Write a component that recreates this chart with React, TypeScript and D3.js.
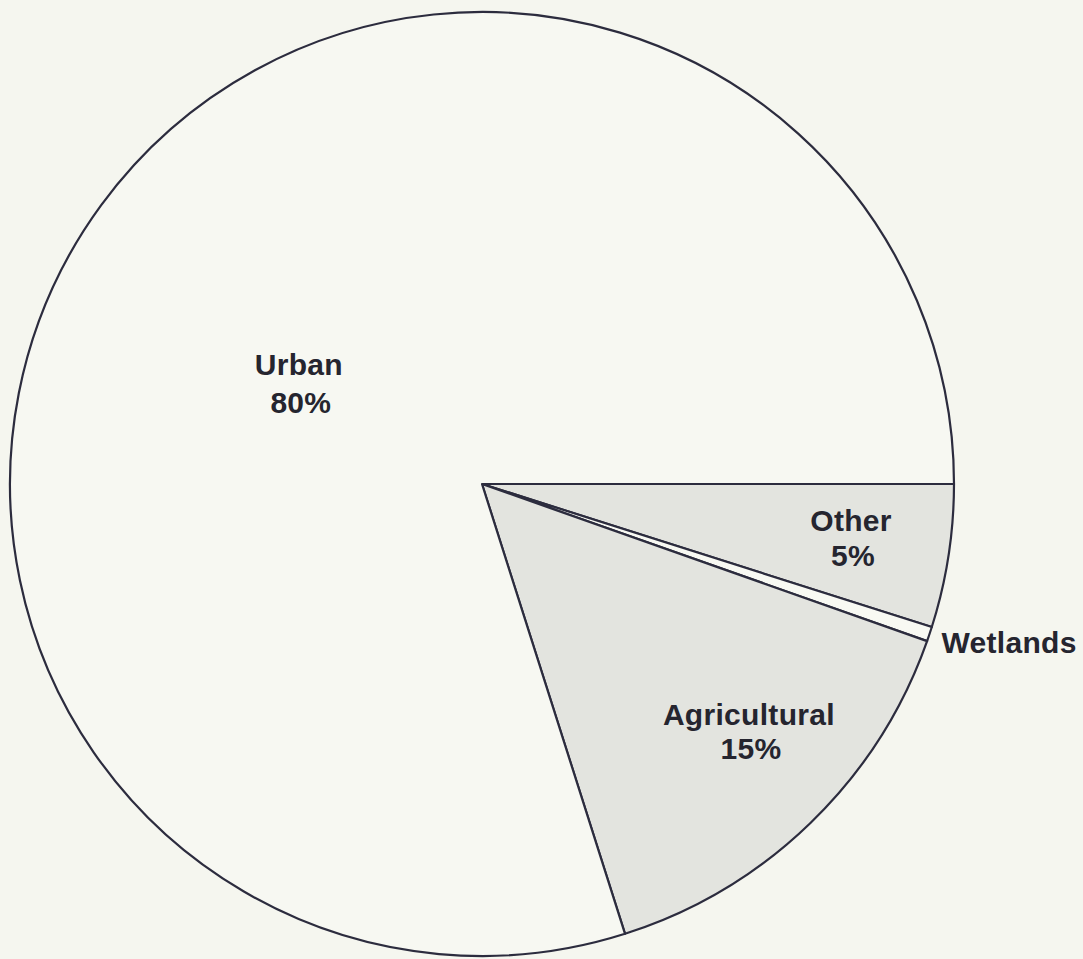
import React, { useRef, useEffect } from "react";
import * as d3 from "d3";

// land use shares (clockwise from 3 o'clock)
const categories = ["Other", "Wetlands", "Agricultural", "Urban"];
const shares = [4.9, 0.5, 14.7, 79.9];
const percentLabels = ["5%", "", "15%", "80%"];

const App = () => {
  const chartRef = useRef<HTMLDivElement>(null);

  useEffect(() => {
    const width = 1083;
    const height = 959;
    const cx = 482;
    const cy = 484;
    const radius = 472;

    const root = d3.select(chartRef.current);
    root.selectAll("*").remove();

    const svg = root
      .append("svg")
      .attr("width", width)
      .attr("height", height)
      .style("position", "absolute")
      .style("left", 0)
      .style("top", 0);

    svg
      .append("rect")
      .attr("width", width)
      .attr("height", height)
      .attr("fill", "#f5f6ef");

    const data = categories.map((name, i) => ({
      name,
      value: shares[i],
      label: percentLabels[i],
    }));

    const fills: Record<string, string> = {
      Other: "#e3e4df",
      Wetlands: "#f8f9f3",
      Agricultural: "#e3e4df",
      Urban: "#f7f8f2",
    };

    // start at 3 o'clock and go clockwise
    const pie = d3
      .pie<any>()
      .value((d) => d.value)
      .sort(null)
      .startAngle(Math.PI / 2)
      .endAngle(Math.PI / 2 + 2 * Math.PI);

    const arcs = pie(data);

    const arc = d3.arc<any>().innerRadius(0).outerRadius(radius);

    const chart = svg
      .append("g")
      .attr("transform", `translate(${cx}, ${cy})`);

    chart
      .selectAll(".slice")
      .data(arcs)
      .enter()
      .append("path")
      .attr("class", "slice")
      .attr("d", arc)
      .attr("fill", (d) => fills[d.data.name])
      .attr("stroke", "#2c2c3e")
      .attr("stroke-width", 2.2)
      .attr("stroke-linejoin", "round");

    // label placement: fraction of radius and a small angle nudge (radians)
    const labelPos: Record<string, { r: number; shift: number; gap: number }> = {
      Other: { r: 0.79, shift: -0.01, gap: 35 },
      Agricultural: { r: 0.77, shift: -0.055, gap: 34 },
      Urban: { r: 0.445, shift: -0.12, gap: 38 },
    };

    const fontSize = 30;
    const font = "'Liberation Sans', Arial, Helvetica, sans-serif";

    arcs.forEach((d) => {
      const name = d.data.name;
      const mid = (d.startAngle + d.endAngle) / 2;
      if (name === "Wetlands") {
        // outside label, left aligned next to the sliver
        const x = Math.sin(mid) * radius;
        const y = -Math.cos(mid) * radius;
        chart
          .append("text")
          .attr("x", x + 12)
          .attr("y", y + 19)
          .attr("text-anchor", "start")
          .attr("font-family", font)
          .attr("font-weight", "bold")
          .attr("font-size", fontSize)
          .attr("letter-spacing", 0.3)
          .attr("fill", "#25252f")
          .text(name);
        return;
      }
      const p = labelPos[name];
      const a = mid + p.shift;
      const x = Math.sin(a) * radius * p.r;
      const y = -Math.cos(a) * radius * p.r;
      const t = chart
        .append("text")
        .attr("text-anchor", "middle")
        .attr("font-family", font)
        .attr("font-weight", "bold")
        .attr("font-size", fontSize)
        .attr("letter-spacing", 0.3)
        .attr("fill", "#25252f");
      t.append("tspan").attr("x", x).attr("y", y - 6).text(name);
      t.append("tspan").attr("x", x + 2).attr("y", y - 6 + p.gap).text(d.data.label);
    });
  }, []);

  return <div ref={chartRef}></div>;
};

export default App;
